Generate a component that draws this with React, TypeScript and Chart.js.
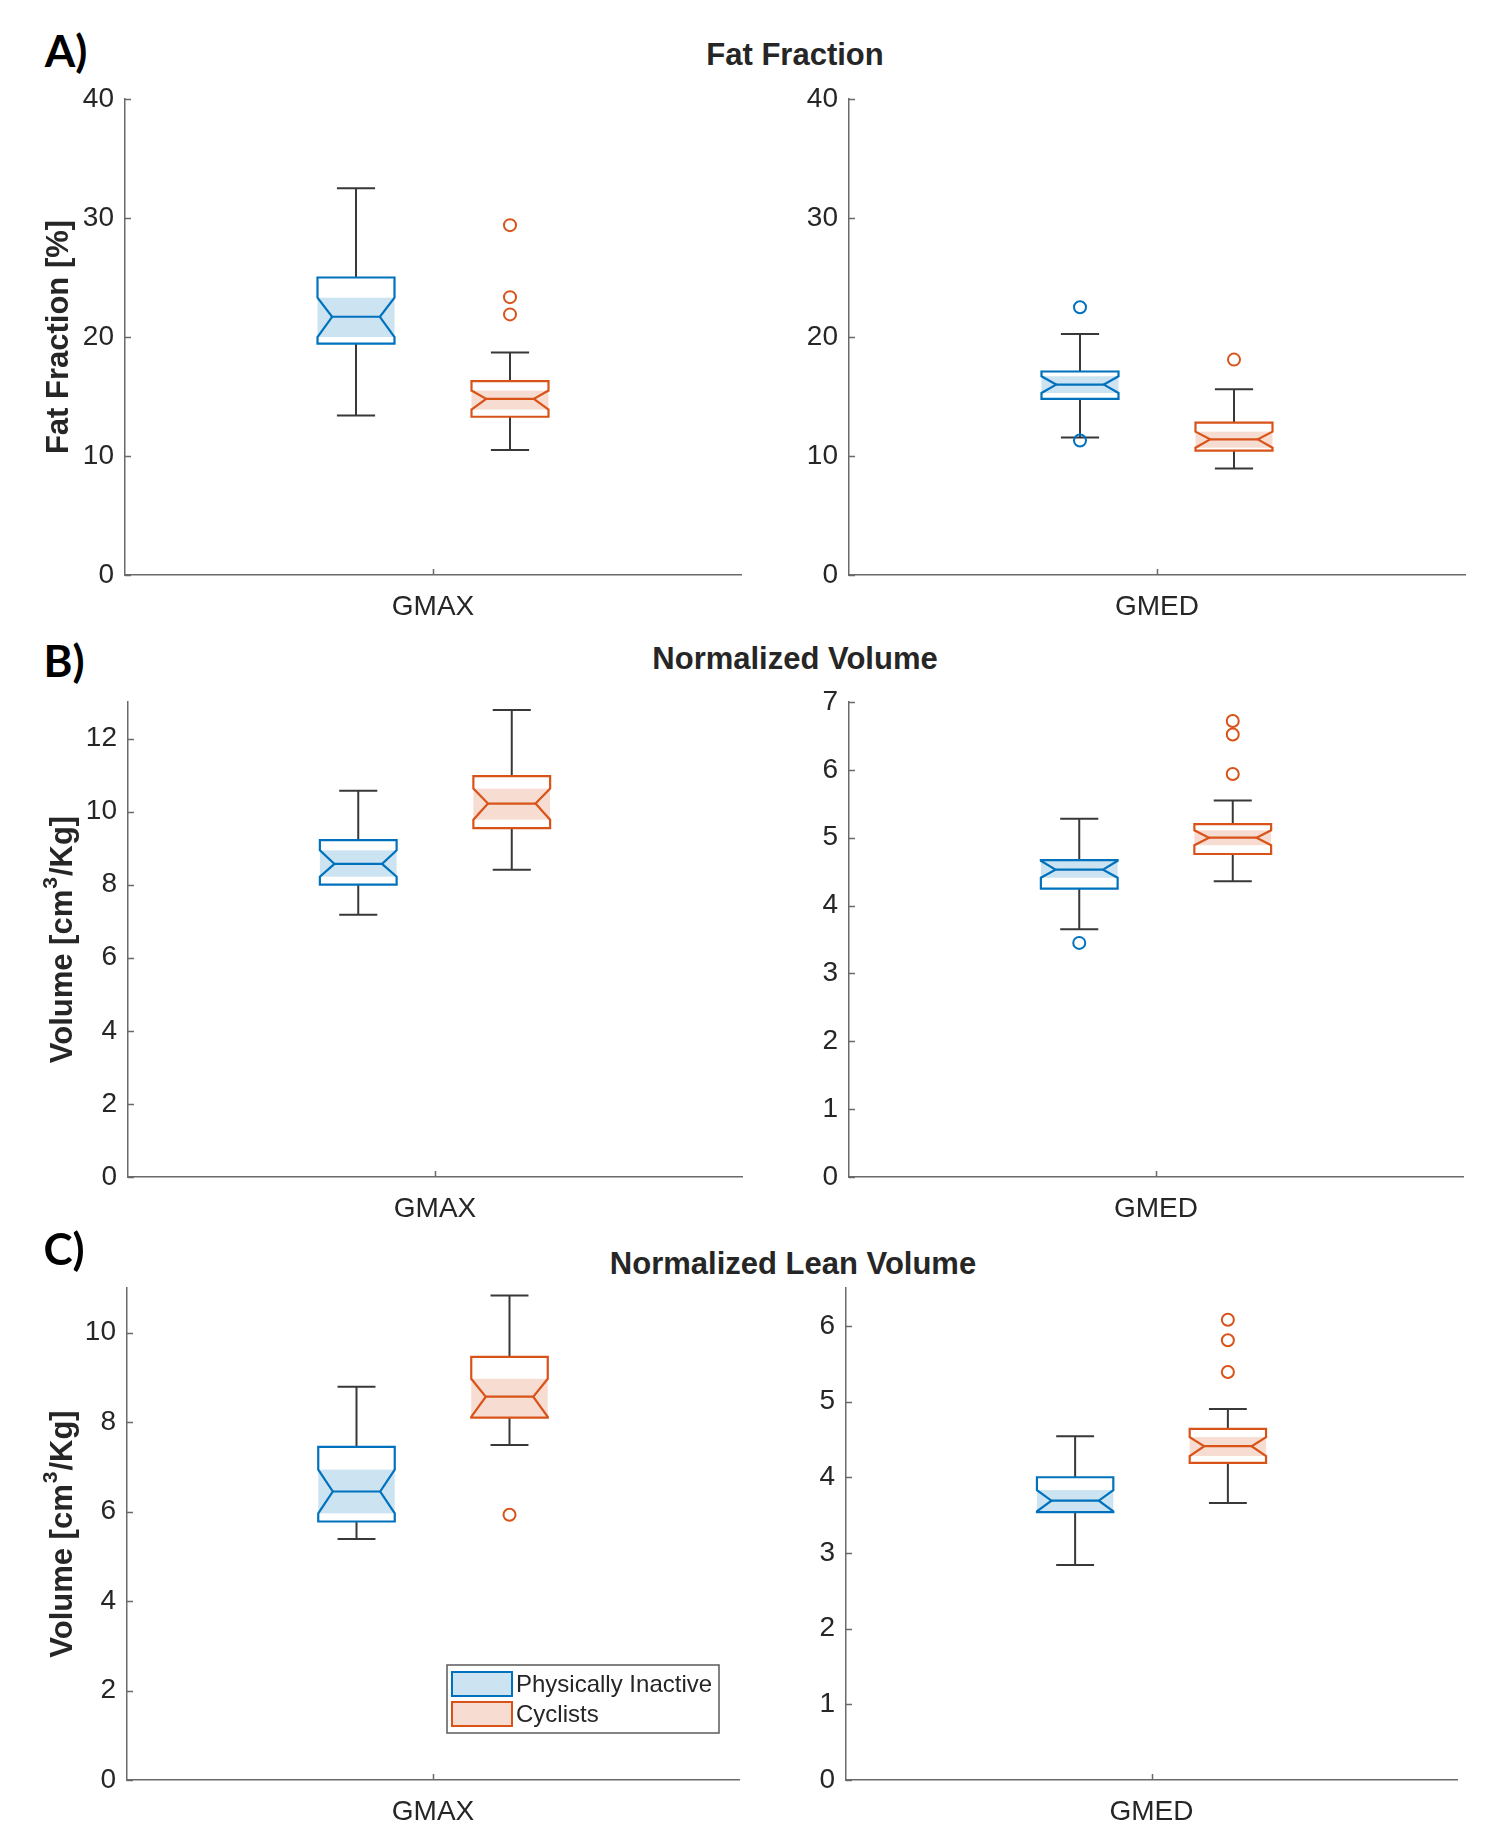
import React, { useEffect, useRef } from 'react';
import { Chart, registerables } from 'chart.js';

Chart.register(...registerables);

// ---------------- data ----------------
const groups = ['Physically Inactive', 'Cyclists'];
const muscles = ['GMAX', 'GMED'];

// stats order: lower whisker, Q1, notch low, median, notch high, Q3, upper whisker
const fatInactive = [
  [13.4, 19.45, 20.0, 21.7, 23.3, 25.0, 32.5],
  [11.55, 14.8, 15.3, 16.0, 16.7, 17.1, 20.25],
];
const fatCyclists = [
  [10.5, 13.3, 13.9, 14.8, 15.5, 16.3, 18.7],
  [8.95, 10.45, 10.7, 11.4, 12.05, 12.8, 15.6],
];
const fatInactiveOutliers = [[], [22.5, 11.3]];
const fatCyclistsOutliers = [[29.4, 23.35, 21.9], [18.1]];

const volInactive = [
  [7.18, 8.0, 8.22, 8.57, 8.94, 9.22, 10.57],
  [3.65, 4.25, 4.41, 4.53, 4.66, 4.67, 5.28],
];
const volCyclists = [
  [8.41, 9.55, 9.78, 10.22, 10.63, 10.97, 12.78],
  [4.36, 4.76, 4.89, 5.0, 5.11, 5.2, 5.55],
];
const volInactiveOutliers = [[], [3.45]];
const volCyclistsOutliers = [[], [6.72, 6.52, 5.94]];

const leanInactive = [
  [5.39, 5.78, 5.96, 6.45, 6.94, 7.45, 8.79],
  [2.84, 3.54, 3.55, 3.69, 3.83, 4.0, 4.54],
];
const leanCyclists = [
  [7.49, 8.1, 8.12, 8.57, 8.97, 9.46, 10.83],
  [3.66, 4.19, 4.28, 4.41, 4.53, 4.64, 4.9],
];
const leanInactiveOutliers = [[], []];
const leanCyclistsOutliers = [[5.93], [6.08, 5.81, 5.39]];

const fatYMax = [40, 40];
const fatYStep = [10, 10];
const volYMax = [13, 7];
const volYStep = [2, 1];
const leanYMax = [11, 6.5];
const leanYStep = [2, 1];

const panelLetters = ['A)', 'B)', 'C)'];
const panelTitles = ['Fat Fraction', 'Normalized Volume', 'Normalized Lean Volume'];
// "^" marks the superscript part
const yTitles = ['Fat Fraction [%]', 'Volume [cm^3^/Kg]', 'Volume [cm^3^/Kg]'];

// ---------------- style ----------------
const BLUE = '#0072BD';
const BLUE_FILL = 'rgb(204,227,242)';
const ORANGE = '#D95319';
const ORANGE_FILL = 'rgb(247,221,209)';
const WHISKER = '#383838';
const AXIS = '#6a6a6a';
const TEXT = '#262626';
const FONT = '"Liberation Sans", Arial, Helvetica, sans-serif';
const GROUP_POS = [0.375, 0.625];
const BOX_HALF = 0.0625;
const CAP_HALF = 0.031;
const NOTCH_INSET = 0.38; // fraction of half width
const Y_AXIS_W = 120;
const X_AXIS_H = 50;
const PAD_TOP = 20;
const PAD_RIGHT = 20;

function drawYTitle(ctx: any, text: string, cx: number, cy: number) {
  const parts = text.split('^').map((t, i) => ({ t, sup: i % 2 === 1 }));
  const mainFont = `bold 31px ${FONT}`;
  const supFont = `bold 21px ${FONT}`;
  ctx.save();
  ctx.translate(cx, cy);
  ctx.rotate(-Math.PI / 2);
  ctx.fillStyle = TEXT;
  ctx.textAlign = 'left';
  ctx.textBaseline = 'alphabetic';
  let total = 0;
  const widths = parts.map((p) => {
    ctx.font = p.sup ? supFont : mainFont;
    const w = ctx.measureText(p.t).width + (p.sup ? 2 : 0);
    total += w;
    return w;
  });
  let x0 = -total / 2;
  parts.forEach((p, i) => {
    ctx.font = p.sup ? supFont : mainFont;
    ctx.fillText(p.t, x0 + (p.sup ? 1 : 0), p.sup ? 11 - 15 : 11);
    x0 += widths[i];
  });
  ctx.restore();
}

function makeBoxPlugin(boxes: any[], showLegend: boolean, yTitle: string | null, titleOffset: number) {
  return {
    id: 'notchedBoxes',
    beforeDatasetsDraw(chart: any) {
      const { ctx, scales } = chart;
      const x = scales.x;
      const y = scales.y;
      const py = (v: number) => y.getPixelForValue(v);
      boxes.forEach((b) => {
        const [lo, q1, nLo, med, nHi, q3, hi] = b.stats;
        const cx = x.getPixelForValue(b.pos);
        const hw = x.getPixelForValue(b.pos + BOX_HALF) - cx;
        const cw = x.getPixelForValue(b.pos + CAP_HALF) - cx;
        const inset = hw * NOTCH_INSET;
        ctx.save();
        // whiskers
        ctx.strokeStyle = WHISKER;
        ctx.lineWidth = 2;
        ctx.beginPath();
        ctx.moveTo(cx, py(q3));
        ctx.lineTo(cx, py(hi));
        ctx.moveTo(cx - cw, py(hi));
        ctx.lineTo(cx + cw, py(hi));
        ctx.moveTo(cx, py(q1));
        ctx.lineTo(cx, py(lo));
        ctx.moveTo(cx - cw, py(lo));
        ctx.lineTo(cx + cw, py(lo));
        ctx.stroke();
        // white box + notch shading
        ctx.fillStyle = '#ffffff';
        ctx.fillRect(cx - hw, py(q3), 2 * hw, py(q1) - py(q3));
        ctx.fillStyle = b.fill;
        ctx.fillRect(cx - hw, py(nHi), 2 * hw, py(nLo) - py(nHi));
        // notched outline
        ctx.strokeStyle = b.color;
        ctx.lineWidth = 2.2;
        ctx.lineJoin = 'miter';
        ctx.beginPath();
        ctx.moveTo(cx - hw, py(q3));
        ctx.lineTo(cx + hw, py(q3));
        ctx.lineTo(cx + hw, py(nHi));
        ctx.lineTo(cx + hw - inset, py(med));
        ctx.lineTo(cx + hw, py(nLo));
        ctx.lineTo(cx + hw, py(q1));
        ctx.lineTo(cx - hw, py(q1));
        ctx.lineTo(cx - hw, py(nLo));
        ctx.lineTo(cx - hw + inset, py(med));
        ctx.lineTo(cx - hw, py(nHi));
        ctx.closePath();
        ctx.stroke();
        // median
        ctx.beginPath();
        ctx.moveTo(cx - hw + inset, py(med));
        ctx.lineTo(cx + hw - inset, py(med));
        ctx.stroke();
        ctx.restore();
      });
    },
    afterDraw(chart: any) {
      const { ctx, scales, chartArea } = chart;
      const x = scales.x;
      const y = scales.y;
      ctx.save();
      ctx.strokeStyle = AXIS;
      ctx.lineWidth = 1.5;
      ctx.beginPath();
      y.ticks.forEach((t: any) => {
        const p = Math.round(y.getPixelForValue(t.value)) + 0.5;
        ctx.moveTo(chartArea.left, p);
        ctx.lineTo(chartArea.left + 6, p);
      });
      x.ticks.forEach((t: any) => {
        const p = Math.round(x.getPixelForValue(t.value)) + 0.5;
        ctx.moveTo(p, chartArea.bottom);
        ctx.lineTo(p, chartArea.bottom - 6);
      });
      ctx.stroke();
      ctx.restore();
      if (yTitle) {
        drawYTitle(ctx, yTitle, chartArea.left - titleOffset, (chartArea.top + chartArea.bottom) / 2);
      }
      if (showLegend) {
        ctx.save();
        const w = 272;
        const h = 68;
        const lx = chartArea.right - 20 - w;
        const ly = chartArea.bottom - 47 - h;
        ctx.fillStyle = '#ffffff';
        ctx.fillRect(lx, ly, w, h);
        ctx.strokeStyle = '#5a5a5a';
        ctx.lineWidth = 1.5;
        ctx.strokeRect(lx, ly, w, h);
        const items = [
          { label: groups[0], color: BLUE, fill: BLUE_FILL },
          { label: groups[1], color: ORANGE, fill: ORANGE_FILL },
        ];
        items.forEach((it, i) => {
          const sy = ly + 7 + i * 30;
          ctx.fillStyle = it.fill;
          ctx.fillRect(lx + 5, sy, 60, 24);
          ctx.strokeStyle = it.color;
          ctx.lineWidth = 2;
          ctx.strokeRect(lx + 5, sy, 60, 24);
          ctx.fillStyle = TEXT;
          ctx.font = `24px ${FONT}`;
          ctx.textBaseline = 'middle';
          ctx.textAlign = 'left';
          ctx.fillText(it.label, lx + 69, sy + 13);
        });
        ctx.restore();
      }
    },
  };
}

type PanelProps = {
  rect: { L: number; R: number; T: number; B: number };
  category: string;
  inactive: number[];
  cyclists: number[];
  inactiveOut: number[];
  cyclistsOut: number[];
  yMax: number;
  yStep: number;
  yTitle: string | null;
  titleOffset: number;
  legend: boolean;
};

function BoxPanel(props: PanelProps) {
  const ref = useRef<HTMLCanvasElement | null>(null);
  const { rect } = props;
  const w = rect.R - rect.L + Y_AXIS_W + PAD_RIGHT;
  const h = rect.B - rect.T + PAD_TOP + X_AXIS_H;
  useEffect(() => {
    const canvas = ref.current;
    if (!canvas) return;
    const boxes = [
      { pos: GROUP_POS[0], stats: props.inactive, color: BLUE, fill: BLUE_FILL },
      { pos: GROUP_POS[1], stats: props.cyclists, color: ORANGE, fill: ORANGE_FILL },
    ];
    const pointStyle = (color: string) => ({
      showLine: false,
      pointRadius: 6,
      pointHoverRadius: 6,
      pointBorderWidth: 2,
      pointBorderColor: color,
      pointBackgroundColor: 'rgba(0,0,0,0)',
      borderColor: color,
      backgroundColor: 'rgba(0,0,0,0)',
    });
    const zeroPad = (s: any) => {
      s.paddingTop = 0;
      s.paddingBottom = 0;
      s.paddingLeft = 0;
      s.paddingRight = 0;
    };
    const chart = new Chart(canvas, {
      type: 'scatter',
      data: {
        datasets: [
          {
            label: groups[0],
            data: props.inactiveOut.map((v) => ({ x: GROUP_POS[0], y: v })),
            ...pointStyle(BLUE),
          },
          {
            label: groups[1],
            data: props.cyclistsOut.map((v) => ({ x: GROUP_POS[1], y: v })),
            ...pointStyle(ORANGE),
          },
        ],
      },
      options: {
        responsive: false,
        animation: false,
        devicePixelRatio: 1,
        events: [],
        layout: { padding: { top: PAD_TOP, right: PAD_RIGHT, left: 0, bottom: 0 } },
        plugins: {
          legend: { display: false },
          tooltip: { enabled: false },
          title: { display: false },
        },
        scales: {
          x: {
            type: 'linear',
            min: 0,
            max: 1,
            grid: { display: false, drawTicks: false },
            border: { display: true, color: AXIS, width: 1.5 },
            afterBuildTicks: (s: any) => {
              s.ticks = [{ value: 0.5 }];
            },
            ticks: {
              callback: () => props.category,
              font: { family: FONT, size: 28 },
              color: TEXT,
              padding: 15,
              maxRotation: 0,
              autoSkip: false,
            },
            afterFit: (s: any) => {
              s.height = X_AXIS_H;
              zeroPad(s);
            },
          },
          y: {
            type: 'linear',
            min: 0,
            max: props.yMax,
            grid: { display: false, drawTicks: false },
            border: { display: true, color: AXIS, width: 1.5 },
            ticks: {
              stepSize: props.yStep,
              includeBounds: false,
              font: { family: FONT, size: 28 },
              color: TEXT,
              padding: 11,
            },
            afterFit: (s: any) => {
              s.width = Y_AXIS_W;
              zeroPad(s);
            },
          },
        },
      } as any,
      plugins: [makeBoxPlugin(boxes, props.legend, props.yTitle, props.titleOffset)],
    });
    return () => chart.destroy();
  }, []);
  return (
    <canvas
      ref={ref}
      width={w}
      height={h}
      style={{
        position: 'absolute',
        left: rect.L - Y_AXIS_W,
        top: rect.T - PAD_TOP,
        width: w,
        height: h,
        display: 'block',
      }}
    />
  );
}

const layout = [
  { L: 125, R: 741, T: 99, B: 575 },
  { L: 849, R: 1465, T: 99, B: 575 },
  { L: 128, R: 742, T: 702, B: 1177 },
  { L: 849, R: 1463, T: 702, B: 1177 },
  { L: 127, R: 739, T: 1288, B: 1780 },
  { L: 846, R: 1457, T: 1288, B: 1780 },
];

const letterPos = [
  { x: 66, y: 50 },
  { x: 64, y: 660 },
  { x: 64, y: 1248 },
];
const titlePos = [
  { x: 795, y: 54 },
  { x: 795, y: 658 },
  { x: 793, y: 1263 },
];

export default function App() {
  const rows = [
    { inA: fatInactive, cyA: fatCyclists, inO: fatInactiveOutliers, cyO: fatCyclistsOutliers, yMax: fatYMax, yStep: fatYStep, off: 68 },
    { inA: volInactive, cyA: volCyclists, inO: volInactiveOutliers, cyO: volCyclistsOutliers, yMax: volYMax, yStep: volYStep, off: 67 },
    { inA: leanInactive, cyA: leanCyclists, inO: leanInactiveOutliers, cyO: leanCyclistsOutliers, yMax: leanYMax, yStep: leanYStep, off: 66 },
  ];
  return (
    <div
      style={{
        position: 'absolute',
        left: 0,
        top: 0,
        width: 1488,
        height: 1848,
        overflow: 'hidden',
        background: '#ffffff',
      }}
    >
      {rows.map((r, ri) => (
        <React.Fragment key={ri}>
          <div
            style={{
              position: 'absolute',
              left: letterPos[ri].x,
              top: letterPos[ri].y,
              transform: 'translate(-50%, -50%)',
              font: `700 44px Lato, "Open Sans", sans-serif`,
              lineHeight: 1,
              color: '#000',
              whiteSpace: 'nowrap',
            }}
          >
            {panelLetters[ri]}
          </div>
          <div
            style={{
              position: 'absolute',
              left: titlePos[ri].x,
              top: titlePos[ri].y,
              transform: 'translate(-50%, -50%)',
              font: `700 31px ${FONT}`,
              lineHeight: 1,
              color: TEXT,
              whiteSpace: 'nowrap',
            }}
          >
            {panelTitles[ri]}
          </div>
          {[0, 1].map((ci) => (
            <BoxPanel
              key={ci}
              rect={layout[ri * 2 + ci]}
              category={muscles[ci]}
              inactive={r.inA[ci]}
              cyclists={r.cyA[ci]}
              inactiveOut={r.inO[ci]}
              cyclistsOut={r.cyO[ci]}
              yMax={r.yMax[ci]}
              yStep={r.yStep[ci]}
              yTitle={ci === 0 ? yTitles[ri] : null}
              titleOffset={r.off}
              legend={ri === 2 && ci === 0}
            />
          ))}
        </React.Fragment>
      ))}
    </div>
  );
}
